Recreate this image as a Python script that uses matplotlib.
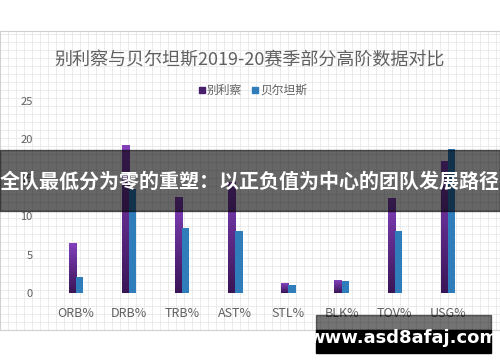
import numpy as np
import matplotlib.pyplot as plt
from matplotlib.patches import Rectangle
from matplotlib.colors import LinearSegmentedColormap

plt.rcParams['font.family'] = ['Noto Sans CJK SC', 'DejaVu Sans']

categories = ["ORB%", "DRB%", "TRB%", "AST%", "STL%", "BLK%", "TOV%", "USG%"]
bjelica = [6.4, 19.2, 12.5, 14.4, 1.3, 1.6, 12.3, 17.1]
bertans = [2.1, 13.5, 8.4, 8.1, 1.1, 1.6, 8.1, 18.7]
yticks = [0, 5, 10, 15, 20, 25]

title = "别利察与贝尔坦斯2019-20赛季部分高阶数据对比"
banner = "全队最低分为零的重塑：以正负值为中心的团队发展路径"
watermark = "www.asd8afaj.com"

W, H = 500, 362
fig = plt.figure(figsize=(W / 100, H / 100), dpi=100)

# graph-paper panel behind the chart
bg = fig.add_axes([0, (H - 330) / H, 1, 299 / H])
bg.set_xlim(0, 500)
bg.set_ylim(0, 299)
bg.set_facecolor("white")
for gx in np.arange(0, 500, 8):
    bg.axvline(gx, color="#e8e8e8", lw=0.6)
for gy in np.arange(0, 299, 8):
    bg.axhline(gy, color="#e8e8e8", lw=0.6)
for s in bg.spines.values():
    s.set_color("#d0d0d0")
    s.set_linewidth(0.8)
bg.set_xticks([])
bg.set_yticks([])

ax = fig.add_axes([49.4 / W, (H - 293) / H, 425 / W, 192 / H])
ax.patch.set_alpha(0)

x = np.arange(len(categories))
bw = 0.135
purple = LinearSegmentedColormap.from_list("p", ["#3a1556", "#8340bb"])
grad = np.linspace(0, 1, 64).reshape(-1, 1)
for xi, v in zip(x, bjelica):
    ax.imshow(grad, cmap=purple, origin="lower", aspect="auto",
              extent=(xi - bw, xi, 0, v), zorder=2)
ax.bar(x + bw / 2, bertans, width=bw, color="#2f7dbb", zorder=2)
ax.set_xlim(-0.5, 7.5)
ax.set_ylim(0, 25)

ax.set_xticks(x)
ax.set_xticklabels(categories, fontsize=9, color="#606060", fontweight="light")
ax.set_yticks(yticks)
ax.set_yticklabels([str(t) for t in yticks], fontsize=8, color="#606060",
                   fontweight="light")
ax.tick_params(axis="x", length=0, pad=10)
ax.tick_params(axis="y", length=0, pad=12)
for s in ax.spines.values():
    s.set_visible(False)

fig.text(0.5, (H - 60) / H, title, ha="center", va="center",
         fontsize=13, color="#606060", fontweight="light")

# legend
ly = (H - 90) / H
fig.patches.append(Rectangle((199 / W, ly - 3 / H), 6 / W, 6 / H,
                             transform=fig.transFigure, color="#4a1f6e"))
fig.text(207 / W, ly, "别利察", fontsize=8.5, color="#606060", va="center",
         fontweight="light")
fig.patches.append(Rectangle((252 / W, ly - 3 / H), 6 / W, 6 / H,
                             transform=fig.transFigure, color="#2f7dbb"))
fig.text(260 / W, ly, "贝尔坦斯", fontsize=8.5, color="#606060", va="center",
         fontweight="light")

# dark banner
fig.patches.append(Rectangle((0, (H - 211) / H), 1, 61 / H,
                             transform=fig.transFigure, color="black",
                             alpha=0.6, zorder=10))
fig.text(0.5, (H - 181) / H, banner, ha="center", va="center",
         fontsize=14.4, fontweight="bold", color="white", zorder=11)

# watermark
fig.patches.append(Rectangle((316 / W, (H - 330) / H), 175 / W, 15 / H,
                             transform=fig.transFigure, color="black",
                             alpha=0.55, zorder=10))
fig.patches.append(Rectangle((316 / W, (H - 353) / H), 175 / W, 23 / H,
                             transform=fig.transFigure, color="black",
                             zorder=10))
fig.text(403 / W, (H - 338) / H, watermark, ha="center", va="center",
         fontsize=13, fontweight="bold", color="white", zorder=11,
         family="DejaVu Sans")

fig.savefig("out.png", dpi=100)
